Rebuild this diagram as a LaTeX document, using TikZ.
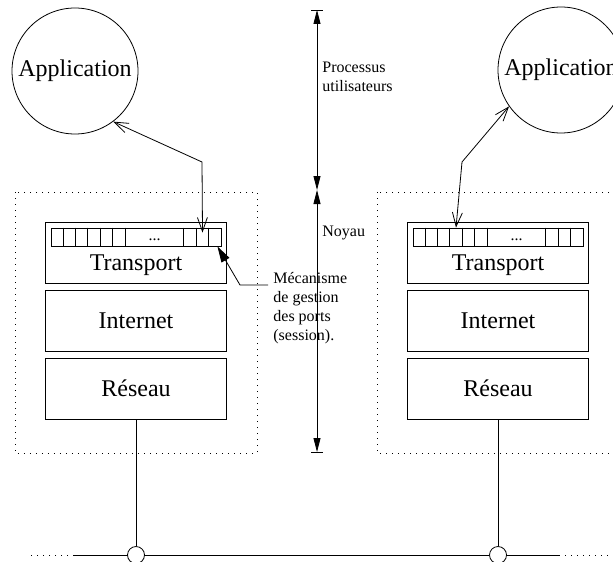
\documentclass[tikz,border=0pt]{standalone}
\usepackage{fontspec}
\setmainfont{Liberation Serif}
\usetikzlibrary{arrows.meta,positioning,calc}
\newcommand{\bigfont}{\fontsize{12}{14}\selectfont}
\newcommand{\smallfont}{\fontsize{8}{9.5}\selectfont}
\tikzset{
  proc/.style={circle,draw,thin,minimum size=63pt,inner sep=0pt,font=\bigfont},
  layer/.style={rectangle,draw,thin,minimum width=90.5pt,minimum height=30.5pt,
              inner sep=0pt,font=\bigfont},
  ports/.style={rectangle,draw,thin,minimum width=85pt,minimum height=9pt,inner sep=0pt},
  tap/.style={circle,draw,thin,minimum size=8.5pt,inner sep=0pt},
  zone/.style={draw,thin,dash pattern=on 0.6pt off 2.4pt},
  note/.style={align=left,inner sep=0pt,font=\smallfont},
  link/.style={{Straight Barb[length=7pt,width=5pt]}-{Straight Barb[length=7pt,width=5pt]},thin},
  pointer/.style={-{Triangle[length=8pt,width=4.5pt]},thin},
  span/.style={{Triangle[length=7pt,width=3.5pt]}-{Triangle[length=7pt,width=3.5pt]},thin},
}

\begin{document}
\begin{tikzpicture}[x=0.5pt,y=-0.5pt,node distance=3pt]
  \clip (0,0) rectangle (613,561);

  % applications
  \node[proc] (appL) at (75,71) {Application};
  \node[proc] (appR) at (561,70) {Application};

  % protocol stacks
  \draw[zone] (15,192) rectangle (257,453);
  \draw[zone] (377,192) rectangle (619,453);
  \node[layer] (tpL) at (136,253) {};
  \node[layer,below=of tpL] (inL) {Internet};
  \node[layer,below=of inL] (resL) {Réseau};
  \node[layer] (tpR) at (498,253) {};
  \node[layer,below=of tpR] (inR) {Internet};
  \node[layer,below=of inR] (resR) {Réseau};
  \node[ports,below=2.75pt of tpL.north] (portsL) {};
  \node[ports,below=2.75pt of tpR.north] (portsR) {};
  \node[font=\bigfont] (tpLtxt) at ($(portsL.south)!0.5!(tpL.south)$) {Transport};
  \node[font=\bigfont] (tpRtxt) at ($(portsR.south)!0.5!(tpR.south)$) {Transport};
  \foreach \p in {portsL,portsR} {
    \foreach \i in {1,...,6}
      \draw[thin] ([xshift=\i*6.2pt]\p.north west) -- ([xshift=\i*6.2pt]\p.south west);
    \foreach \i in {1,2,3}
      \draw[thin] ([xshift=-\i*6.3pt]\p.north east) -- ([xshift=-\i*6.3pt]\p.south east);
    \node[font=\smallfont,anchor=base,inner sep=0pt] (\p-dots)
      at ([xshift=9.25pt,yshift=-1.5pt]\p.center) {...};
  }

  % application <-> port
  \coordinate (pL) at ([xshift=-9.45pt,yshift=-2.5pt]portsL.north east);
  \coordinate (bL) at (202,162);
  \draw[link] (appL.-53) -- (bL) -- (pL);
  \coordinate (pR) at ([xshift=21.7pt]portsR.north west);
  \coordinate (bR) at (462,162);
  \draw[link] (appR.-145) -- (bR) -- (pR);

  % port management
  \node[note,anchor=north west] (meca) at (273,272) {Mécanisme\\de gestion\\des ports\\(session).};
  \coordinate (mecaK) at (240,285);
  \draw[pointer] ([xshift=-2.5pt,yshift=-6.5pt]meca.north west) -- (mecaK)
    -- ([xshift=-2pt]portsL.south east);

  % user / kernel
  \coordinate (kTop) at (317,10);
  \coordinate (kMid) at (317,190);
  \coordinate (kBot) at (317,452);
  \draw[span] (kTop) -- (kMid);
  \draw[span] (kMid) -- (kBot);
  \draw[thin] (kTop) ++(-6,0) -- ++(12,0);
  \draw[thin] (kBot) ++(-6,0) -- ++(12,0);
  \node[note,anchor=west] (procLbl) at (322,77) {Processus\\utilisateurs};
  \node[note,anchor=west] (kernLbl) at (322,233) {Noyau};

  % network
  \node[tap] (tapL) at (136,555) {};
  \node[tap] (tapR) at (498,555) {};
  \coordinate (endL) at (74,555);
  \coordinate (endR) at (559,555);
  \draw[thin] (resL) -- (tapL);
  \draw[thin] (resR) -- (tapR);
  \draw[thin] (endL) -- (tapL) (tapL) -- (tapR) (tapR) -- (endR);
  \draw[zone] (endL) -- ++(-47,0);
  \draw[zone] (endR) -- ++(50,0);
\end{tikzpicture}
\end{document}
